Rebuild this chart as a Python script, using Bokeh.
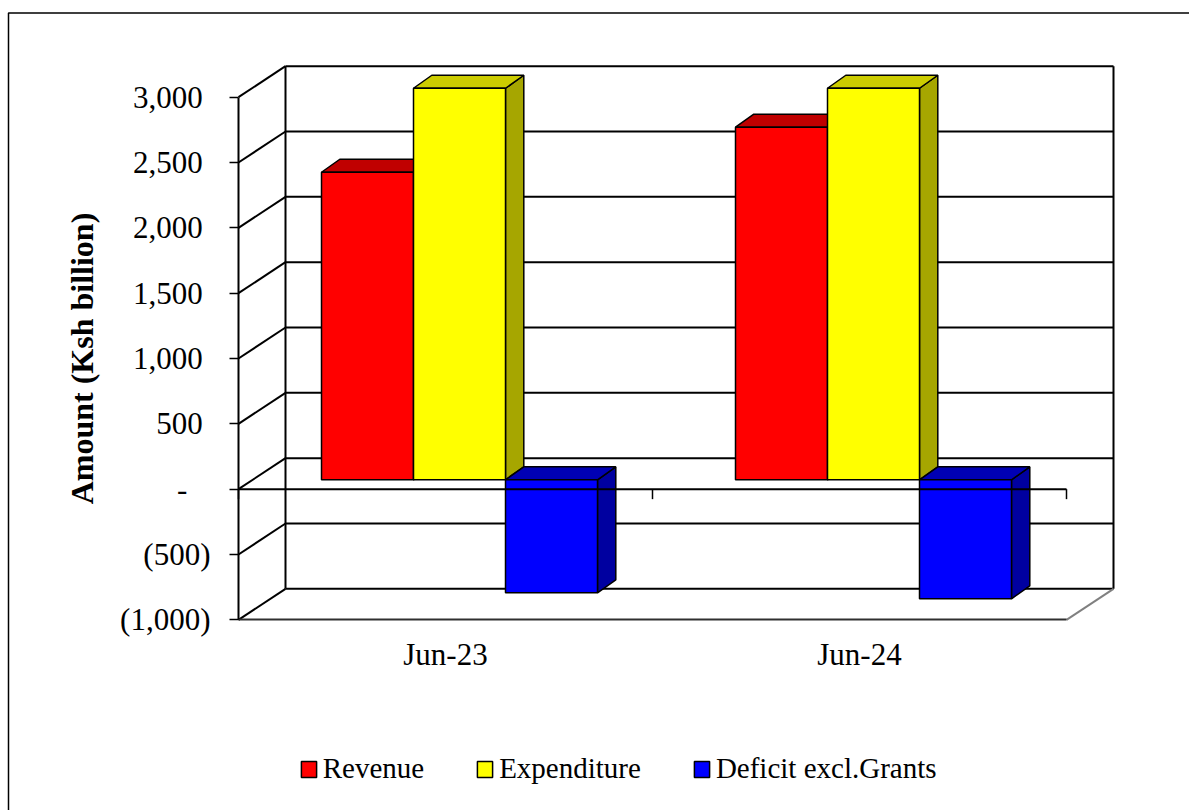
import math
from bokeh.plotting import figure
from bokeh.models import FixedTicker, Legend, LegendItem, BoxAnnotation, Range1d, Label
from bokeh.embed import file_html
from bokeh.resources import INLINE

# ---------------- data ----------------
categories = ["Jun-23", "Jun-24"]
series_names = ["Revenue", "Expenditure", "Deficit excl.Grants"]
revenue = [2354, 2699]
expenditure = [2997, 2997]
deficit = [-865, -911]
y_ticks = [-1000, -500, 0, 500, 1000, 1500, 2000, 2500, 3000]
y_tick_labels = ["(1,000)", "(500)", "-", "500", "1,000", "1,500", "2,000", "2,500", "3,000"]
y_title = "Amount (Ksh billion)"

# ---------------- style / layout ----------------
front_colors = ["#FF0000", "#FFFF00", "#0000FF"]
top_colors = ["#C00000", "#CCCC00", "#0000B4"]
side_colors = ["#990000", "#A6A600", "#0000A0"]
FONT = "Liberation Serif"

W, H = 1189, 810
SX = 414.0       # px per category
SY = 0.13065     # px per value unit
X0_PX = 238.0    # page x of the front value axis
Y0_PX = 488.65   # page y of value 0 on the front plane


def ux(px):
    return px / SX


def uy(px):
    return px / SY


def xd(page_x):
    return (page_x - X0_PX) / SX


def yd(page_y):
    return (Y0_PX - page_y) / SY


x_start, x_end = xd(0), xd(W)
y_start, y_end = yd(H), yd(0)

wall_dx, wall_dy = ux(47), uy(31)
bf_dx, bf_dy = ux(14), uy(9.35)
bd_dx, bd_dy = ux(18.3), uy(13)
bar_w = 2.0 / 9.0
n_cat = len(categories)
ymin, ymax = y_ticks[0], y_ticks[-1]

p = figure(width=W, height=H, x_range=Range1d(x_start, x_end), y_range=Range1d(y_start, y_end),
           output_backend="svg", toolbar_location=None)
p.min_border_left = 0
p.min_border_right = 0
p.min_border_top = 0
p.min_border_bottom = 0
p.grid.visible = False
p.outline_line_color = None
p.background_fill_color = "white"
p.border_fill_color = "white"

nt = len(y_ticks)
# left side wall gridlines
p.segment(x0=[0] * nt, y0=y_ticks, x1=[wall_dx] * nt, y1=[v + wall_dy for v in y_ticks],
          line_color="black", line_width=2)
# back wall gridlines
p.segment(x0=[wall_dx] * nt, y0=[v + wall_dy for v in y_ticks],
          x1=[n_cat + wall_dx] * nt, y1=[v + wall_dy for v in y_ticks],
          line_color="black", line_width=2)
# back wall verticals
p.segment(x0=[wall_dx, n_cat + wall_dx], y0=[ymin + wall_dy] * 2,
          x1=[wall_dx, n_cat + wall_dx], y1=[ymax + wall_dy] * 2,
          line_color="black", line_width=2)
# floor right edge
p.segment(x0=[n_cat], y0=[ymin], x1=[n_cat + wall_dx], y1=[ymin + wall_dy],
          line_color="#808080", line_width=2)

# ---------------- bars ----------------
values = [revenue, expenditure, deficit]
front_renderers = []
for j, vals in enumerate(values):
    lefts, rights, bottoms, tops = [], [], [], []
    txs, tys, sxs, sys_ = [], [], [], []
    for i, v in enumerate(vals):
        l = i + 0.5 - 1.5 * bar_w + j * bar_w + bf_dx
        r = l + bar_w
        b = min(0, v) + bf_dy
        t = max(0, v) + bf_dy
        lefts.append(l); rights.append(r); bottoms.append(b); tops.append(t)
        txs.append([l, r, r + bd_dx, l + bd_dx])
        tys.append([t, t, t + bd_dy, t + bd_dy])
        sxs.append([r, r, r + bd_dx, r + bd_dx])
        sys_.append([b, t, t + bd_dy, b + bd_dy])
    p.patches(sxs, sys_, fill_color=side_colors[j], line_color="black", line_width=1.5)
    p.patches(txs, tys, fill_color=top_colors[j], line_color="black", line_width=1.5)
    fr = p.quad(left=lefts, right=rights, bottom=bottoms, top=tops,
                fill_color=front_colors[j], line_color="black", line_width=1.5)
    front_renderers.append(fr)

# front zero (category) axis line with ticks
p.segment(x0=[0], y0=[0], x1=[n_cat], y1=[0], line_color="black", line_width=2)
edges = list(range(n_cat + 1))
p.segment(x0=edges, y0=[0] * len(edges), x1=edges, y1=[-uy(10)] * len(edges),
          line_color="black", line_width=1.5)

# ---------------- axes ----------------
pad_labels = []
for v, lab in zip(y_ticks, y_tick_labels):
    if v > 0:
        pad_labels.append(lab + "\u00a0")
    elif v == 0:
        pad_labels.append(lab + "\u00a0\u00a0\u00a0")
    else:
        pad_labels.append(lab)

yax = p.yaxis[0]
yax.fixed_location = 0
yax.ticker = FixedTicker(ticks=y_ticks)
yax.major_label_overrides = {float(v): lab for v, lab in zip(y_ticks, pad_labels)}
yax.bounds = (ymin, ymax)
yax.axis_line_color = "black"
yax.axis_line_width = 2
yax.major_tick_out = 9
yax.major_tick_in = 0
yax.minor_tick_out = 0
yax.minor_tick_in = 0
yax.major_tick_line_width = 1.5
yax.major_label_standoff = 19
yax.major_label_text_font = FONT
yax.major_label_text_font_size = "31px"
yax.major_label_text_color = "black"

xax = p.xaxis[0]
xax.fixed_location = ymin
xax.ticker = FixedTicker(ticks=[i + 0.5 for i in range(n_cat)])
xax.major_label_overrides = {i + 0.5: c for i, c in enumerate(categories)}
xax.bounds = (0, n_cat)
xax.axis_line_color = "#303030"
xax.axis_line_width = 2
xax.major_tick_out = 0
xax.major_tick_in = 0
xax.minor_tick_out = 0
xax.minor_tick_in = 0
xax.major_label_standoff = 17
xax.major_label_text_font = FONT
xax.major_label_text_font_size = "31px"
xax.major_label_text_color = "black"

# value-axis title, centred on the axis span
title = Label(x=xd(81), y=(ymin + ymax) / 2, text=y_title, angle=math.pi / 2,
              text_align="center", text_baseline="middle",
              text_font=FONT, text_font_style="bold", text_font_size="32px", text_color="black")
p.add_layout(title)

# ---------------- legend ----------------
legend = Legend(
    items=[LegendItem(label=n, renderers=[r]) for n, r in zip(series_names, front_renderers)],
    orientation="horizontal", location=(298.7, H - 785.0),
    glyph_width=19, glyph_height=20, label_standoff=5, spacing=51,
    padding=0, margin=0, border_line_color=None, background_fill_alpha=0,
    label_text_font=FONT, label_text_font_size="29px", label_text_color="black",
)
p.add_layout(legend, "center")

# outer chart-area border (only its top and left edges fall on the page)
border = BoxAnnotation(left=xd(8.0), right=x_end + 1, top=yd(12.5), bottom=y_start - 1000,
                       fill_alpha=0, line_color="black", line_alpha=1.0, line_width=1.5)
p.add_layout(border)

open("out.html", "w").write(file_html(p, INLINE))
